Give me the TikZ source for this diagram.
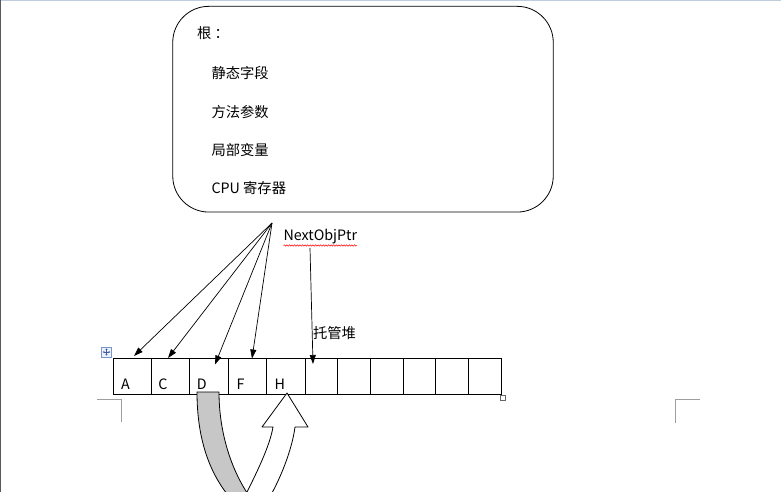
\documentclass[tikz,border=0pt]{standalone}
\usepackage{fontspec}
\setmainfont{Noto Sans CJK SC}
\usetikzlibrary{arrows.meta,decorations.pathmorphing}
\begin{document}
\begin{tikzpicture}[x=1pt,y=-1pt,
  txt/.style={inner sep=0pt,outer sep=0pt,anchor=west,font=\fontsize{14.3}{16}\selectfont},
  cellbox/.style={draw,line width=0.8pt,inner sep=0pt,outer sep=0pt,minimum height=36pt},
  wide/.style={cellbox,minimum width=38.4pt},
  narrow/.style={cellbox,minimum width=32.67pt},
  ptr/.style={line width=0.7pt,-{Triangle[length=9pt,width=6pt]}},
  cornermark/.style={draw=black!38,line width=0.8pt},
  band/.style={draw,line width=0.8pt,line join=round}]
\useasboundingbox (0,0) rectangle (781,492);
\fill[white] (0,0) rectangle (781,492);
% page edges
\draw[draw={rgb,255:red,190;green,205;blue,222},line width=1.5pt] (0,0.7) -- (781,0.7);
\draw[draw=black!65,line width=1.2pt] (0.6,0) -- (0.6,492);
% root box
\node[draw,line width=0.8pt,rounded corners=36pt,minimum width=380.5pt,minimum height=205.7pt,inner sep=0pt] (root) at (363,109.2) {};
\node[txt] (t0) at (197,33) {根 ：};
\node[txt] (t1) at (211.5,72.7) {静态字段};
\node[txt] (t2) at (211.5,112.3) {方法参数};
\node[txt] (t3) at (211.5,150) {局部变量};
\node[txt] (t4) at (211.5,187.7) {CPU 寄存器};
% cells
\node[wide,anchor=north west] (cA) at (113,358) {};
\node[wide,anchor=west] (cC) at (cA.east) {};
\node[wide,anchor=west] (cD) at (cC.east) {};
\node[wide,anchor=west] (cF) at (cD.east) {};
\node[wide,anchor=west] (cH) at (cF.east) {};
\node[narrow,anchor=west] (e1) at (cH.east) {};
\node[narrow,anchor=west] (e2) at (e1.east) {};
\node[narrow,anchor=west] (e3) at (e2.east) {};
\node[narrow,anchor=west] (e4) at (e3.east) {};
\node[narrow,anchor=west] (e5) at (e4.east) {};
\node[narrow,anchor=west] (e6) at (e5.east) {};
\node[txt] (lA) at ([shift={(8,8)}]cA.west) {A};
\node[txt] (lC) at ([shift={(7,8)}]cC.west) {C};
\node[txt] (lD) at ([shift={(7,8)}]cD.west) {D};
\node[txt] (lF) at ([shift={(8.5,8)}]cF.west) {F};
\node[txt] (lH) at ([shift={(8,8)}]cH.west) {H};
% table handles
\node[draw={rgb,255:red,120;green,150;blue,200},fill={rgb,255:red,235;green,240;blue,250},line width=0.6pt,minimum size=10pt,inner sep=0pt] (mv) at (106.5,352) {};
\draw[{Triangle[length=1.5pt,width=2pt]}-{Triangle[length=1.5pt,width=2pt]},draw={rgb,255:red,60;green,90;blue,160},line width=0.4pt] ([xshift=-3.6pt]mv.center) -- ([xshift=3.6pt]mv.center);
\draw[{Triangle[length=1.5pt,width=2pt]}-{Triangle[length=1.5pt,width=2pt]},draw={rgb,255:red,60;green,90;blue,160},line width=0.4pt] ([yshift=-3.6pt]mv.center) -- ([yshift=3.6pt]mv.center);
\node[draw=black!60,fill=white,line width=0.6pt,minimum size=5.5pt,inner sep=0pt] (rs) at (503,398) {};
% labels
\node[txt] (nop) at (283.5,237) {NextObjPtr};
\draw[red,line width=0.5pt,decorate,decoration={snake,amplitude=0.7pt,segment length=2.6pt}] ([yshift=-8.5pt]nop.west) -- ([yshift=-8.5pt]nop.east);
\node[txt] (heap) at (313,332.7) {托管堆};
% pointers
\coordinate (src) at (272,223);
\coordinate (pA) at (134,356);
\coordinate (pC) at (168,358);
\coordinate (pD) at (215,364.5);
\coordinate (pF) at (252,358.5);
\coordinate (nsrc) at (310,248);
\coordinate (pN) at (313,364);
\draw[ptr] (src) -- (pA);
\draw[ptr] (src) -- (pC);
\draw[ptr] (src) -- (pD);
\draw[ptr] (src) -- (pF);
\draw[ptr] (nsrc) -- (pN);
% page corner marks
\coordinate (ml) at (121,399);
\coordinate (mr) at (675,399);
\draw[cornermark] (97,399) -- (ml) -- (121,422);
\draw[cornermark] (700,399) -- (mr) -- (675,423);
% curved arrow
\begin{scope}
\clip (0,0) rectangle (781,492);
\draw[band,fill=black!22] (197,392) .. controls (197,440) and (210,475) .. (232,500) -- (252,500) .. controls (230,470) and (219,430) .. (219,392) -- cycle;
\draw[band,fill=white] (247,492) .. controls (258,470) and (270,445) .. (273,427) -- (262,427) -- (287,393) -- (308,427) -- (295,427) .. controls (292,450) and (280,480) .. (268,500) -- (247,500) -- cycle;
\end{scope}
\end{tikzpicture}
\end{document}
